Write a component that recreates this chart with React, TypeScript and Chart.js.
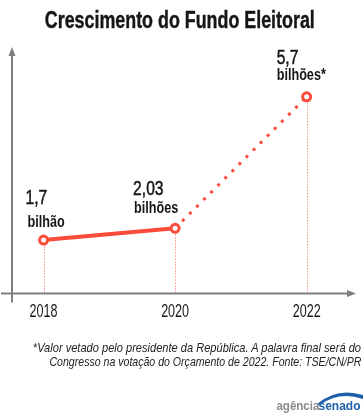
import React, { useEffect, useRef } from 'react';
import { Chart, registerables } from 'chart.js';

Chart.register(...registerables);

// ---- data ----
const years = [2018, 2020, 2022];
const values = [1.7, 2.03, 5.7];
const valueLabels = ['1,7', '2,03', '5,7'];
const unitLabels = ['bilhão', 'bilhões', 'bilhões*'];
const tickYears = [2018, 2020, 2022];

const title = 'Crescimento do Fundo Eleitoral';
const noteLines = [
  '*Valor vetado pelo presidente da República. A palavra final será do',
  'Congresso na votação do Orçamento de 2022. Fonte: TSE/CN/PR',
];

// ---- style ----
const RED = '#fa4b3b';
const GRAY = '#7f7f7f';
const INK = '#161616';
const FONT = '"Liberation Sans", Arial, sans-serif';
// label placement relative to each point: [dx, baselineDy]
const valuePos = [[-18, -36], [-42, -33], [-30, -33]];
const unitPos = [[-16, -13], [-41, -15], [-30, -17]];
const VALUE_SCALE = 0.8;
const UNIT_SCALE = 0.79;
const TICK_SCALE = 0.68;

function measure(text: string, font: string): number {
  const c = document.createElement('canvas').getContext('2d');
  if (!c) return 1;
  c.font = font;
  return c.measureText(text).width || 1;
}

function drawSquished(ctx: any, text: string, x: number, y: number, sx: number, align: 'left' | 'center', thicken = 0) {
  ctx.save();
  ctx.translate(x, y);
  ctx.scale(sx, 1);
  ctx.textAlign = align;
  ctx.fillText(text, 0, 0);
  if (thicken > 0) {
    ctx.lineWidth = thicken;
    ctx.strokeStyle = ctx.fillStyle;
    ctx.strokeText(text, 0, 0);
  }
  ctx.restore();
}

const decor = {
  id: 'decor',
  beforeDatasetsDraw(chart: any) {
    const { ctx, chartArea: a, scales } = chart;
    const xs = scales.x;
    const ys = scales.y;
    ctx.save();
    // dotted guides
    ctx.strokeStyle = '#fb8f86';
    ctx.lineWidth = 1;
    ctx.setLineDash([1.5, 1.5]);
    years.forEach((yr, i) => {
      const px = Math.round(xs.getPixelForValue(yr)) + 0.5;
      const py = ys.getPixelForValue(values[i]);
      ctx.beginPath();
      ctx.moveTo(px, py);
      ctx.lineTo(px, a.bottom);
      ctx.stroke();
    });
    ctx.setLineDash([]);
    // axes
    ctx.strokeStyle = GRAY;
    ctx.fillStyle = GRAY;
    ctx.lineWidth = 2;
    ctx.beginPath();
    ctx.moveTo(a.left, a.top + 6);
    ctx.lineTo(a.left, a.bottom + 9);
    ctx.stroke();
    ctx.beginPath();
    ctx.moveTo(a.left - 11, a.bottom);
    ctx.lineTo(a.right - 6, a.bottom);
    ctx.stroke();
    ctx.beginPath();
    ctx.moveTo(a.left, a.top);
    ctx.lineTo(a.left - 3.5, a.top + 9);
    ctx.lineTo(a.left + 3.5, a.top + 9);
    ctx.closePath();
    ctx.fill();
    ctx.beginPath();
    ctx.moveTo(a.right, a.bottom);
    ctx.lineTo(a.right - 9, a.bottom - 3.5);
    ctx.lineTo(a.right - 9, a.bottom + 3.5);
    ctx.closePath();
    ctx.fill();
    // tick labels from the x scale
    ctx.fillStyle = INK;
    ctx.font = `18.5px ${FONT}`;
    ctx.textBaseline = 'alphabetic';
    tickYears.forEach((yr) => {
      drawSquished(ctx, String(yr), xs.getPixelForValue(yr), a.bottom + 23, TICK_SCALE, 'center');
    });
    ctx.restore();
  },
  afterDatasetsDraw(chart: any) {
    const { ctx, scales } = chart;
    const xs = scales.x;
    const ys = scales.y;
    ctx.save();
    ctx.fillStyle = INK;
    ctx.textBaseline = 'alphabetic';
    years.forEach((yr, i) => {
      const px = xs.getPixelForValue(yr);
      const py = ys.getPixelForValue(values[i]);
      ctx.font = `19.5px ${FONT}`;
      drawSquished(ctx, valueLabels[i], px + valuePos[i][0], py + valuePos[i][1], VALUE_SCALE, 'left', 0.5);
      ctx.font = `bold 16px ${FONT}`;
      drawSquished(ctx, unitLabels[i], px + unitPos[i][0], py + unitPos[i][1], UNIT_SCALE, 'left');
    });
    ctx.restore();
  },
};

function Squish({ text, font, target, origin }: { text: string; font: string; target: number; origin: string }) {
  const s = target / measure(text, font);
  return (
    <span style={{ display: 'inline-block', whiteSpace: 'nowrap', transform: `scaleX(${s})`, transformOrigin: origin }}>
      {text}
    </span>
  );
}

export default function App() {
  const ref = useRef<HTMLCanvasElement | null>(null);

  useEffect(() => {
    if (!ref.current) return;
    const chart = new Chart(ref.current, {
      type: 'line',
      data: {
        datasets: [
          {
            data: years.map((x, i) => ({ x, y: values[i] })),
            borderColor: RED,
            borderWidth: 4,
            borderCapStyle: 'butt',
            pointRadius: 4,
            pointBorderWidth: 3,
            pointBackgroundColor: '#ffffff',
            pointBorderColor: RED,
            clip: false,
            segment: {
              borderDash: (c: any) => (c.p0DataIndex === 1 ? [3, 7] : undefined),
              borderWidth: (c: any) => (c.p0DataIndex === 1 ? 3 : 4),
            },
          } as any,
        ],
      },
      options: {
        responsive: false,
        animation: false,
        devicePixelRatio: 1,
        layout: { padding: { left: 12, right: 3, top: 47, bottom: 121.5 } },
        plugins: { legend: { display: false }, tooltip: { enabled: false }, title: { display: false } },
        scales: {
          x: { type: 'linear', display: false, min: 2017.52, max: 2022.75 },
          y: { type: 'linear', display: false, min: 0.21, max: 7.09 },
        },
      },
      plugins: [decor],
    });
    return () => chart.destroy();
  }, []);

  const titleFont = `bold 23px ${FONT}`;
  const noteFont = `italic 13.5px ${FONT}`;
  const logoFont = `bold 13px ${FONT}`;

  return (
    <div style={{ position: 'fixed', left: 0, top: 0, width: 363, height: 415, background: '#fff', overflow: 'hidden' }}>
      <canvas ref={ref} width={363} height={415} style={{ position: 'absolute', left: 0, top: 0 }} />
      <div
        style={{
          position: 'absolute', left: -1.5, top: 8.5, width: 363, textAlign: 'center',
          font: titleFont, lineHeight: '23px', color: INK, WebkitTextStroke: '0.4px #161616',
        } as any}
      >
        <Squish text={title} font={titleFont} target={270} origin="center" />
      </div>
      <div
        style={{
          position: 'absolute', right: 2, top: 341, width: 700, textAlign: 'right',
          font: noteFont, lineHeight: '14px', color: '#222',
        }}
      >
        <div><Squish text={noteLines[0]} font={noteFont} target={329} origin="right" /></div>
        <div><Squish text={noteLines[1]} font={noteFont} target={312} origin="right" /></div>
      </div>
      <svg width={46} height={20} style={{ position: 'absolute', left: 317, top: 388 }}>
        <path d="M0 16 Q 20 -1 46 7 L 46 11 Q 22 3 3 17 Z" fill="#1d5fa8" />
      </svg>
      <div
        style={{
          position: 'absolute', right: 44, top: 399, width: 200, textAlign: 'right',
          font: logoFont, lineHeight: '14px', color: '#8a8a8a',
        }}
      >
        <Squish text="agência" font={logoFont} target={43} origin="right" />
      </div>
      <div
        style={{
          position: 'absolute', right: 2, top: 399, width: 200, textAlign: 'right',
          font: logoFont, lineHeight: '14px', color: '#1d5fa8',
        }}
      >
        <Squish text="senado" font={logoFont} target={42} origin="right" />
      </div>
    </div>
  );
}
